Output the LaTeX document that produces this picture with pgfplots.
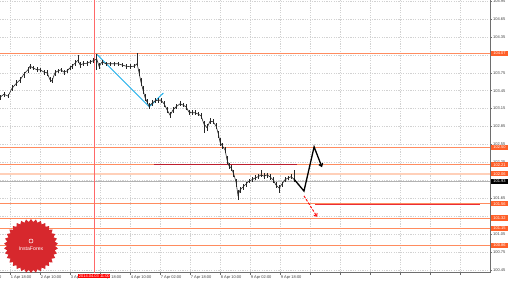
\documentclass[border=0pt]{standalone}
\usepackage{pgfplots}
\pgfplotsset{compat=1.18}
\usepackage{pgfplotstable}
\usepackage{fontspec}
\setmainfont{Liberation Sans}
\usetikzlibrary{arrows.meta,shapes.geometric}
\definecolor{lvl}{RGB}{255,140,95}
\definecolor{peach}{RGB}{255,208,185}
\definecolor{boxc}{RGB}{255,95,40}
\definecolor{darkred}{RGB}{190,30,45}
\definecolor{brightred}{RGB}{235,45,55}
\definecolor{vred}{RGB}{255,105,105}
\definecolor{trend}{RGB}{30,175,235}
\definecolor{logored}{RGB}{215,40,45}
\definecolor{axgray}{RGB}{110,110,110}
\pgfplotstableread{
x y ep em
-5.6 103.34 0.04 0.04
-3.5 103.39 0.04 0.05
-1.3 103.36 0.04 0.04
0.8 103.49 0.05 0.05
3.3 103.58 0.05 0.06
5.1 103.63 0.05 0.05
7.2 103.73 0.04 0.06
9.3 103.80 0.04 0.05
10.4 103.86 0.03 0.05
12.0 103.83 0.04 0.04
14.1 103.80 0.04 0.04
15.7 103.80 0.03 0.04
17.9 103.76 0.04 0.04
19.5 103.75 0.04 0.06
21.1 103.63 0.05 0.04
22.1 103.61 0.06 0.04
23.7 103.75 0.04 0.05
25.3 103.78 0.04 0.04
26.9 103.80 0.03 0.04
28.5 103.76 0.04 0.04
30.1 103.78 0.04 0.04
31.7 103.83 0.04 0.04
32.8 103.86 0.04 0.04
34.4 103.91 0.05 0.04
36.0 103.96 0.09 0.05
37.1 103.88 0.05 0.05
38.7 103.90 0.04 0.04
40.8 103.91 0.04 0.04
42.4 103.93 0.04 0.04
44.0 103.95 0.04 0.04
46.0 103.98 0.08 0.18
47.2 103.86 0.06 0.05
48.8 103.93 0.04 0.05
50.9 103.90 0.03 0.04
53.1 103.90 0.03 0.04
55.2 103.90 0.03 0.03
57.3 103.90 0.03 0.04
59.5 103.88 0.03 0.04
61.6 103.86 0.03 0.04
63.7 103.85 0.04 0.03
65.9 103.86 0.04 0.03
67.5 103.90 0.18 0.04
68.5 103.76 0.06 0.06
69.6 103.59 0.08 0.06
70.7 103.46 0.06 0.06
71.7 103.34 0.06 0.06
72.8 103.26 0.05 0.04
73.9 103.19 0.05 0.04
75.5 103.24 0.05 0.04
77.1 103.28 0.04 0.04
78.7 103.29 0.04 0.04
80.3 103.29 0.04 0.05
81.9 103.23 0.04 0.05
83.5 103.13 0.05 0.05
85.1 103.04 0.05 0.05
86.7 103.13 0.04 0.05
88.3 103.18 0.05 0.04
90.4 103.23 0.04 0.04
92.0 103.21 0.04 0.04
93.6 103.18 0.04 0.05
95.2 103.09 0.04 0.04
96.8 103.08 0.04 0.04
98.4 103.08 0.04 0.04
100.0 103.06 0.04 0.04
101.6 103.03 0.04 0.06
103.2 102.89 0.06 0.15
104.8 102.83 0.07 0.06
106.4 102.94 0.05 0.04
108.0 102.93 0.04 0.04
109.6 102.86 0.05 0.05
110.9 102.72 0.06 0.06
111.7 102.59 0.06 0.06
113.1 102.52 0.05 0.05
114.4 102.46 0.05 0.06
115.5 102.29 0.06 0.06
116.5 102.19 0.05 0.05
117.6 102.16 0.05 0.05
118.9 102.07 0.05 0.06
120.3 101.92 0.06 0.08
121.3 101.70 0.08 0.08
122.4 101.79 0.05 0.05
124.0 101.84 0.05 0.05
125.6 101.89 0.04 0.05
127.2 101.94 0.04 0.04
128.8 101.96 0.04 0.04
130.4 101.99 0.05 0.04
132.0 102.01 0.05 0.04
133.6 102.04 0.08 0.04
135.2 102.02 0.05 0.05
136.8 102.04 0.04 0.05
138.4 102.01 0.04 0.05
140.0 101.96 0.04 0.05
141.6 101.87 0.05 0.05
143.2 101.82 0.05 0.08
144.8 101.89 0.04 0.05
146.4 101.96 0.04 0.04
148.0 101.99 0.04 0.04
149.6 102.01 0.05 0.04
151.2 101.97 0.15 0.05
}\candles
\begin{document}
\begin{tikzpicture}
\useasboundingbox (0,0) rectangle (510bp,283bp);
\fill[white] (0,0) rectangle (510bp,283bp);
\begin{axis}[
  at={(0bp,10.5bp)}, anchor=south west,
  scale only axis, width=490bp, height=272.5bp,
  xmin=-5.6, xmax=255.7, ymin=100.408, ymax=104.967,
  clip=false,
  axis x line*=bottom, axis y line*=right,
  axis line style={draw=axgray, line width=0.6bp, -},
  grid=major,
  major grid style={draw=gray!35, line width=0.35bp, dash pattern=on 1.2bp off 1.2bp},
  tick align=outside, major tick length=2bp,
  tick style={draw=axgray, line width=0.4bp},
  xtick={0,16,32,48,64,80,96,112,128,144,160,176,192,208,224,240},
  xticklabels={1 Apr 18:00,2 Apr 10:00,3 Apr 02:00,3 Apr 18:00,4 Apr 10:00,7 Apr 02:00,7 Apr 18:00,8 Apr 10:00,9 Apr 02:00,9 Apr 18:00,{},{},{},{},{},{}},
  x tick label style={font=\fontsize{4}{4.5}\selectfont, anchor=north west, inner sep=0.4bp, xshift=-0.3bp, yshift=-0.2bp, text=black!75},
  ytick={100.45,100.75,101.05,101.35,101.65,101.95,102.25,102.55,102.85,103.15,103.45,103.75,104.05,104.35,104.65,104.95},
  yticklabels={100.45,100.75,101.05,{},101.65,{},102.25,102.55,102.85,103.15,103.45,103.75,{},104.35,104.65,104.95},
  y tick label style={font=\fontsize{4}{4.5}\selectfont, anchor=west, inner sep=0.4bp, xshift=0.5bp, text=black!75},
]
% horizontal levels
\addplot[lvl, line width=0.8bp] coordinates {(-5.6,104.07) (255.7,104.07)};
\addplot[lvl, line width=0.8bp] coordinates {(-5.6,102.50) (255.7,102.50)};
\addplot[lvl, line width=0.8bp] coordinates {(-5.6,102.21) (255.7,102.21)};
\addplot[peach, line width=2bp] coordinates {(-5.6,102.06) (255.7,102.06)};
\addplot[gray!60, line width=0.4bp] coordinates {(-5.6,101.93) (255.7,101.93)};
\addplot[lvl, line width=0.8bp] coordinates {(-5.6,101.56) (255.7,101.56)};
\addplot[lvl, line width=0.8bp] coordinates {(-5.6,101.32) (255.7,101.32)};
\addplot[lvl, line width=0.8bp] coordinates {(-5.6,101.15) (255.7,101.15)};
\addplot[lvl, line width=0.8bp] coordinates {(-5.6,100.86) (255.7,100.86)};
% vertical red line
\addplot[vred, line width=0.7bp] coordinates {(44.7,100.408) (44.7,104.967)};
% segments
\addplot[darkred, line width=1.4bp] coordinates {(76.5,102.21) (152.8,102.21)};
\addplot[brightred, line width=1.4bp] coordinates {(162.4,101.55) (250.4,101.55)};
% trend line
\addplot[trend, line width=0.9bp] coordinates {(46.0,104.06) (74.0,103.18) (81.5,103.41)};
% candles
\addplot[black!85, line width=0.6bp, mark=none,
  error bars/.cd, y dir=both, y explicit, error mark=none,
  error bar style={line width=0.8bp, black!85}]
  table[x=x, y=y, y error plus=ep, y error minus=em] {\candles};
% forecasts
\addplot[black, line width=1.3bp, -{Straight Barb[length=2.5bp,width=4bp]}] coordinates {(151.2,101.97) (156.5,101.77) (161.9,102.51) (166.1,102.17)};
\addplot[red, line width=0.9bp, dash pattern=on 2.5bp off 1.5bp, -{Straight Barb[length=2.5bp,width=4bp]}] coordinates {(156.5,101.69) (163.5,101.34)};
% price boxes
\foreach \v/\c in {104.07/boxc,102.50/boxc,102.21/boxc,102.06/boxc,101.93/black,101.56/boxc,101.32/boxc,101.15/boxc,100.86/boxc}{
  \edef\temp{\noexpand\node[fill=\c, text=white, font=\noexpand\fontsize{4}{4.5}\noexpand\selectfont, inner sep=0.3bp, minimum width=17.5bp, minimum height=5.2bp, anchor=west, xshift=0.6bp] at (axis cs:255.7,\v) {\v};}
  \temp
}
% date label
\node[fill=red, text=white, font=\fontsize{4}{4.5}\selectfont, inner sep=0.6bp, anchor=north, yshift=-1.2bp] at (axis cs:44.7,100.408) {2014.04.03 11:00};
\node[font=\fontsize{4}{4.5}\selectfont, anchor=north west, inner sep=0.4bp, xshift=-0.3bp, yshift=-2.2bp, text=black!75] at (axis cs:-16,100.408) {1 Apr 02:00};
\end{axis}
% logo
\node[star, star points=34, star point ratio=1.12, minimum size=54bp, inner sep=0pt, fill=logored] at (31bp,37bp) {};
\node[circle, draw=white, line width=0.5bp, minimum size=4bp, inner sep=0pt] at (31bp,42bp) {};
\node[text=white, font=\fontsize{5.2}{6}\selectfont, inner sep=0pt] at (31bp,34bp) {InstaForex};
\end{tikzpicture}
\end{document}
